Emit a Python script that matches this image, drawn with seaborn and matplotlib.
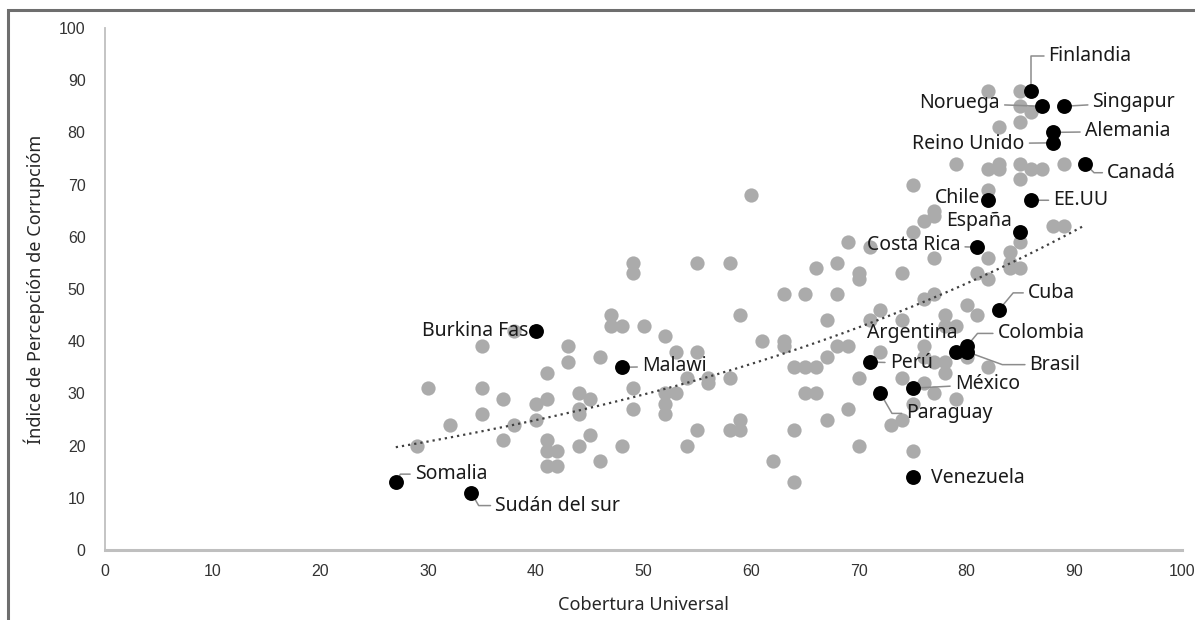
import numpy as np
import pandas as pd
import matplotlib
matplotlib.use("Agg")
import matplotlib.pyplot as plt
from matplotlib.lines import Line2D
import seaborn as sns

# resto de paises (puntos grises): cobertura universal vs IPC
cobertura_resto = [29, 30, 32, 35, 35, 35, 37, 37, 38, 38, 40, 40, 41, 41, 41, 41, 41, 42, 42,
                   43, 43, 44, 45, 44, 44, 44, 45, 46, 46, 47, 47, 48, 48, 49, 49, 49, 49, 50, 52,
                   52, 53, 52, 52, 53, 55, 54, 56, 56, 58, 55, 54, 59, 58, 59, 62, 64, 64, 67,
                   69, 70, 70, 65, 66, 64, 65, 66, 67, 68, 69, 72, 74, 73, 74, 75, 61, 63, 63,
                   59, 60, 55, 58, 66, 68, 70, 70, 74, 63, 65, 68, 67, 71, 72, 74, 69, 71, 75,
                   77, 77, 76, 75, 77, 76, 77,
                   82, 85, 85, 86, 85, 83, 79, 82, 83, 83, 85, 86, 87, 89, 85, 82, 85, 88, 89,
                   82, 84, 84, 84, 85, 81, 82, 80, 81, 78, 79, 78, 76, 76, 77, 78, 78, 82, 80,
                   76, 77, 79, 75]
ipc_resto = [20, 31, 24, 39, 31, 26, 29, 21, 42, 24, 28, 25, 34, 29, 21, 19, 16, 19, 16,
             39, 36, 30, 29, 27, 26, 20, 22, 37, 17, 45, 43, 43, 20, 55, 53, 31, 27, 43, 41,
             30, 30, 28, 26, 38, 38, 33, 33, 32, 33, 23, 20, 25, 23, 23, 17, 13, 23, 25,
             27, 33, 20, 30, 30, 35, 35, 35, 37, 39, 39, 38, 33, 24, 25, 19, 40, 40, 39,
             45, 68, 55, 55, 54, 55, 53, 52, 53, 49, 49, 49, 44, 44, 46, 44, 59, 58, 70,
             65, 64, 63, 61, 56, 48, 49,
             88, 88, 85, 84, 82, 81, 74, 73, 74, 73, 74, 73, 73, 74, 71, 69, 59, 62, 62,
             56, 57, 55, 54, 54, 53, 52, 47, 45, 45, 43, 43, 39, 37, 36, 36, 34, 35, 37,
             32, 30, 29, 28]

# paises destacados (puntos negros)
paises = ["Finlandia", "Noruega", "Singapur", "Alemania", "Reino Unido", "Canadá", "Chile",
          "EE.UU", "España", "Costa Rica", "Cuba", "Argentina", "Colombia", "Brasil", "Perú",
          "México", "Paraguay", "Venezuela", "Burkina Faso", "Malawi", "Somalia", "Sudán del sur"]
cobertura_dest = [86, 87, 89, 88, 88, 91, 82, 86, 85, 81, 83, 79, 80, 80, 71, 75, 72, 75, 40, 48, 27, 34]
ipc_dest = [88, 85, 85, 80, 78, 74, 67, 67, 61, 58, 46, 38, 39, 38, 36, 31, 30, 14, 42, 35, 13, 11]

# donde va cada etiqueta (offset en pixeles, alineacion, conector)
etiquetas = {
    "Finlandia": (17, 35, "left", "angle,angleA=0,angleB=90,rad=0"),
    "Noruega": (-42, 3, "right", "arc3"),
    "Singapur": (29, 4, "left", "arc3"),
    "Alemania": (32, 1, "left", "arc3"),
    "Reino Unido": (-28, -1, "right", "arc3"),
    "Canadá": (22, -9, "left", "angle,angleA=0,angleB=-45,rad=0"),
    "Chile": (-8, 2, "right", None),
    "EE.UU": (22, 0, "left", "arc3"),
    "España": (-8, 11, "right", None),
    "Costa Rica": (-17, 2, "right", "arc3"),
    "Cuba": (29, 17, "left", "angle,angleA=0,angleB=50,rad=0"),
    "Argentina": (2, 19, "right", None),
    "Colombia": (31, 13, "left", "angle,angleA=0,angleB=50,rad=0"),
    "Brasil": (63, -13, "left", "angle,angleA=0,angleB=-20,rad=0"),
    "Perú": (20, -1, "left", "arc3"),
    "México": (42, 4, "left", "arc3"),
    "Paraguay": (26, -20, "left", "angle,angleA=0,angleB=-60,rad=0"),
    "Venezuela": (18, -1, "left", None),
    "Burkina Faso": (4, 0, "right", None),
    "Malawi": (20, 1, "left", "arc3"),
    "Somalia": (19, 8, "left", "angle,angleA=0,angleB=60,rad=0"),
    "Sudán del sur": (24, -13, "left", "angle,angleA=0,angleB=-60,rad=0"),
}

df_resto = pd.DataFrame({"cobertura": cobertura_resto, "ipc": ipc_resto})
df_dest = pd.DataFrame({"pais": paises, "cobertura": cobertura_dest, "ipc": ipc_dest})

sns.set_style("white")
plt.rcParams["font.family"] = ["Noto Sans", "DejaVu Sans"]

fig = plt.figure(figsize=(11.95, 6.2), dpi=100)
ax = fig.add_axes([105 / 1195, 1 - 550 / 620, 1077 / 1195, 522 / 620])

sns.scatterplot(data=df_resto, x="cobertura", y="ipc", color="#ABABAB", s=105,
                linewidth=0, ax=ax, zorder=2)

# linea de tendencia exponencial (como la de Excel)
todo_x = np.array(cobertura_resto + cobertura_dest, dtype=float)
todo_y = np.array(ipc_resto + ipc_dest, dtype=float)
b, ln_a = np.polyfit(todo_x, np.log(todo_y), 1)
xs = np.linspace(todo_x.min(), todo_x.max(), 200)
ax.plot(xs, np.exp(ln_a) * np.exp(b * xs), color="#404040", lw=1.6, ls=(0, (1, 1.8)), zorder=3)

for _, fila in df_dest.iterrows():
    dx, dy, ha, con = etiquetas[fila["pais"]]
    flecha = None
    if con is not None:
        flecha = dict(arrowstyle="-", color="#8C8C8C", lw=1.1, shrinkA=1, shrinkB=3,
                      connectionstyle=con)
    ax.annotate(fila["pais"], xy=(fila["cobertura"], fila["ipc"]), xytext=(dx, dy),
                textcoords="offset pixels", ha=ha, va="center", fontsize=14,
                color="#1a1a1a", fontweight="bold" if fila["pais"] == "Colombia" else "normal",
                arrowprops=flecha, zorder=4)

sns.scatterplot(data=df_dest, x="cobertura", y="ipc", color="black", s=115,
                linewidth=0, ax=ax, zorder=5)

ax.set_xlim(0, 100)
ax.set_ylim(0, 100)
ax.set_xticks(range(0, 101, 10))
ax.set_yticks(range(0, 101, 10))
ax.tick_params(length=0, labelsize=11.5, colors="#333333")
ax.tick_params(axis="x", pad=10)
ax.tick_params(axis="y", pad=14)
for lab in ax.get_xticklabels() + ax.get_yticklabels():
    lab.set_family("Liberation Sans")
ax.set_xlabel("Cobertura Universal", fontsize=13, color="#262626", labelpad=12)
ax.set_ylabel("Índice de Percepción de Corrupcióm", fontsize=13, color="#262626", labelpad=10)
sns.despine(ax=ax)
ax.spines["left"].set_color("#BFBFBF")
ax.spines["left"].set_linewidth(1.3)
ax.spines["bottom"].set_color("#BFBFBF")
ax.spines["bottom"].set_linewidth(2.2)

# marco gris del grafico (se ven el borde izquierdo y el superior)
borde_x = 8 / 1195
borde_y = 1 - 10 / 620
fig.add_artist(Line2D([borde_x, borde_x, 0.999], [0.0, borde_y, borde_y],
                      transform=fig.transFigure, color="#6E6E6E", lw=2.2,
                      solid_joinstyle="miter", zorder=20))

fig.savefig("out.png", dpi=100)
